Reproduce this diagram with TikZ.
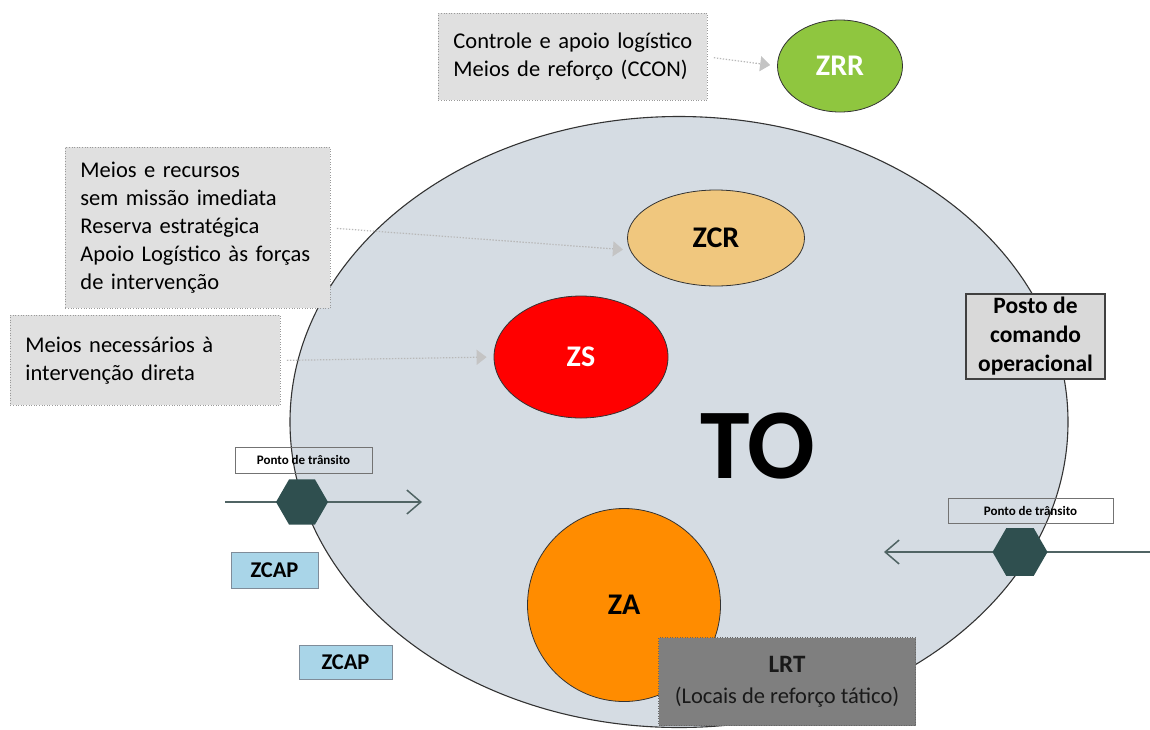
\documentclass[tikz,border=0pt]{standalone}
\usepackage{fontspec}
\setmainfont{Carlito}
\usetikzlibrary{shapes.geometric,arrows.meta}
\definecolor{toFill}{HTML}{D5DCE3}
\definecolor{toLine}{HTML}{333333}
\definecolor{zrrG}{HTML}{8FC63F}
\definecolor{zcrT}{HTML}{F0C77E}
\definecolor{zsR}{HTML}{FF0000}
\definecolor{zaO}{HTML}{FF8C00}
\definecolor{noteFill}{HTML}{E0E0E0}
\definecolor{noteLine}{HTML}{9A9A9A}
\definecolor{postoFill}{HTML}{D9D9D9}
\definecolor{lrtFill}{HTML}{7F7F7F}
\definecolor{zcapFill}{HTML}{A9D5E8}
\definecolor{zcapLine}{HTML}{7F8C99}
\definecolor{hexFill}{HTML}{2F4F4F}
\definecolor{flowLine}{HTML}{506464}
\definecolor{connGray}{HTML}{B8B8B8}
\definecolor{tipGray}{HTML}{C4C4C4}
\begin{document}
\begin{tikzpicture}[x=1pt,y=-1pt,
  zone/.style={ellipse, draw=black!80, line width=0.8pt, inner sep=0pt, font=\fontsize{30}{32}\selectfont\bfseries},
  notebox/.style={draw=noteLine, dash pattern=on 1pt off 1.6pt, line width=0.9pt, fill=noteFill,
    align=left, inner xsep=15pt, inner ysep=0pt, anchor=north west, font=\fontsize{22.5}{28}\selectfont},
  ptlabel/.style={draw=black!55, line width=0.9pt, inner sep=0pt, font=\fontsize{13}{15}\selectfont\bfseries},
  zcapbox/.style={draw=zcapLine, line width=0.9pt, fill=zcapFill, inner sep=0pt, font=\fontsize{22.5}{24}\selectfont\bfseries},
  hexa/.style={regular polygon, regular polygon sides=6, fill=hexFill, draw=none, inner sep=0pt},
  flow/.style={draw=flowLine, line width=1.5pt, -{Straight Barb[length=14pt,width=24pt,line width=1.5pt]}},
  conn/.style={draw=connGray, line width=1.2pt, dash pattern=on 1.4pt off 1.6pt,
    -{Triangle[length=10pt,width=15pt,color=tipGray]}, shorten <=6pt, shorten >=7pt}
]
\useasboundingbox (0,0) rectangle (1150,729);
\fill[white] (0,0) rectangle (1150,729);

% theatre of operations
\node[ellipse, fill=toFill, draw=toLine, line width=1.1pt, minimum width=778pt, minimum height=611pt, inner sep=0pt] (to) at (679,422) {};
\node[font=\fontsize{100}{100}\selectfont\bfseries, inner sep=0pt] (tolabel) at (758,446) {TO};

% zones
\node[zone, fill=zrrG, text=white, minimum width=125pt, minimum height=92pt] (zrr) at (840,66) {ZRR};
\node[zone, fill=zcrT, minimum width=177pt, minimum height=96pt] (zcr) at (716,238) {ZCR};
\node[zone, fill=zsR, text=white, minimum width=174pt, minimum height=122pt] (zs) at (581,357) {ZS};
\node[zone, fill=zaO, minimum width=193pt, minimum height=193pt] (za) at (624,605) {ZA};

% note boxes
\node[notebox, text width=239pt, minimum height=87pt] (b1) at (438,13) {Controle e apoio logístico\\Meios de reforço (CCON)};
\node[notebox, text width=235pt, minimum height=161pt] (b2) at (65,147) {Meios e recursos\\sem missão imediata\\Reserva estratégica\\Apoio Logístico às forças\\de intervenção};
\node[notebox, text width=240pt, minimum height=90pt] (b3) at (10,315) {Meios necessários à\\intervenção direta};

\draw[conn] (b1.east) -- (zrr.west);
\draw[conn] (b2.east) -- (zcr.188);
\draw[conn] (b3.east) -- (zs.west);

% command post
\node[draw=black!75, line width=1.2pt, fill=postoFill, minimum width=139pt, minimum height=85pt, inner sep=0pt,
  align=center, font=\fontsize{23.5}{29}\selectfont\bfseries] (posto) at (1035.5,336.5) {Posto de\\comando\\operacional};

% transit points
\coordinate (lin) at (225,502);
\coordinate (lout) at (422,502);
\draw[flow] (lin) -- (lout);
\node[hexa, minimum size=52pt] (hexl) at (302,502) {};
\node[ptlabel, minimum width=137pt, minimum height=26pt] (ptl) at (303.5,460) {Ponto de trânsito};

\coordinate (rin) at (1150,552);
\coordinate (rout) at (884,552);
\draw[flow] (rin) -- (rout);
\node[hexa, minimum size=55pt] (hexr) at (1020,552) {};
\node[ptlabel, minimum width=165pt, minimum height=25pt] (ptr) at (1030.5,510.5) {Ponto de trânsito};

% ZCAP
\node[zcapbox, minimum width=87pt, minimum height=36pt] (zcap1) at (274.5,570) {ZCAP};
\node[zcapbox, minimum width=93pt, minimum height=34pt] (zcap2) at (345.5,662) {ZCAP};

% LRT
\node[draw=black!60, dash pattern=on 1pt off 1.5pt, line width=1pt, fill=lrtFill, anchor=north west,
  minimum width=257pt, minimum height=88pt, inner sep=0pt, align=center, text=black!90,
  font=\fontsize{22.5}{31}\selectfont] (lrt) at (658,637) {{\fontsize{25}{31}\selectfont\bfseries LRT}\\(Locais de reforço tático)};
\end{tikzpicture}
\end{document}
